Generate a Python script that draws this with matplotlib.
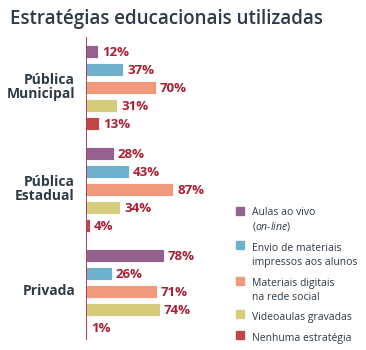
import matplotlib
matplotlib.use("Agg")
import matplotlib.pyplot as plt
from matplotlib.patches import Rectangle

groups = ["Pública\nMunicipal", "Pública\nEstadual", "Privada"]
series = ["Aulas ao vivo\n($\\mathit{on}$-$\\mathit{line}$)",
          "Envio de materiais\nimpressos aos alunos",
          "Materiais digitais\nna rede social", "Videoaulas gravadas",
          "Nenhuma estratégia"]
values = [
    [12, 37, 70, 31, 13],
    [28, 43, 87, 34, 4],
    [78, 26, 71, 74, 1],
]
colors = ["#956290", "#6EAFCB", "#F19A7B", "#D5CD7C", "#C1474A"]
title = "Estratégias educacionais utilizadas"

plt.rcParams['font.family'] = ['Open Sans', 'DejaVu Sans']
plt.rcParams['mathtext.fontset'] = 'custom'
plt.rcParams['mathtext.rm'] = 'Open Sans'
plt.rcParams['mathtext.it'] = 'Open Sans:italic'
W, H = 366, 350
fig = plt.figure(figsize=(W / 100, H / 100), dpi=100)

x0, ytop, ybot = 86, 37, 340
ax = fig.add_axes([x0 / W, 1 - ybot / H, (W - x0) / W, (ybot - ytop) / H])
ax.set_xlim(0, W - x0)
ax.set_ylim(ybot, ytop)
ax.axis("off")
ax.axvline(0, color="#A0203A", lw=1.2)

gpitch, spitch, bh, first = 102, 18, 13, 51
for g, vals in enumerate(values):
    for i, v in enumerate(vals):
        y = first + g * gpitch + i * spitch
        ax.barh(y, v, height=bh, color=colors[i], edgecolor="white",
                linewidth=0.6, left=0)
        ax.text(v + 4, y + 1, f"{v}%", color="#A91F32", fontsize=9.5,
                fontweight="bold", va="center", ha="left")
    yc = first + g * gpitch + 2 * spitch
    ax.text(-11, yc, groups[g], ha="right", va="center", fontsize=10,
            fontweight="bold", color="#2E3A46", linespacing=1.05)

fig.text(10 / W, 1 - 19 / H, title, fontsize=13.5, fontweight="semibold",
         color="#2E3A46", va="center", ha="left")

# legend
sq_top = [207, 241, 277, 310, 331]
txt_c = [211, 247, 282, 316, 337]
lsp = 13.5
fs = 7.5
tc = "#2E3A46"
for i, lab in enumerate(series):
    fig.patches.append(Rectangle((236 / W, 1 - (sq_top[i] + 8) / H), 8 / W, 8 / H,
                                 transform=fig.transFigure, color=colors[i]))
    for k, line in enumerate(lab.split("\n")):
        fig.text(252 / W, 1 - (txt_c[i] + k * lsp) / H, line, fontsize=fs,
                 color=tc, va="center_baseline", ha="left")

fig.savefig("out.png", dpi=100)
